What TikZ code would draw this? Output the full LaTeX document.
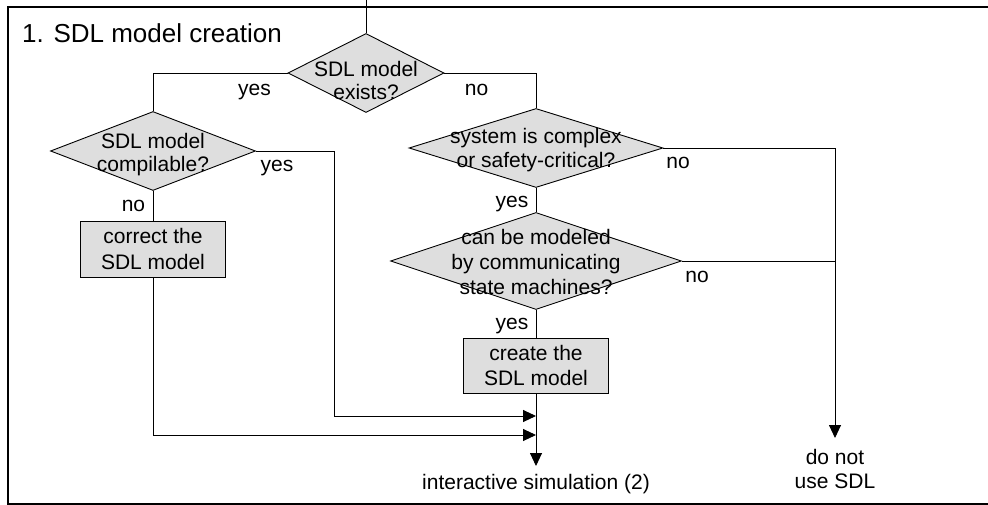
\documentclass[tikz,border=0pt]{standalone}
\usepackage{fontspec}
\setmainfont{Liberation Sans}
\usetikzlibrary{shapes.geometric,arrows.meta}
\definecolor{boxfill}{HTML}{DEDEDE}
\begin{document}
\begin{tikzpicture}[x=1pt,y=-1pt,
  every node/.style={font=\fontsize{21}{24}\selectfont},
  dia/.style={diamond,draw,line width=0.9pt,fill=boxfill,inner sep=0pt},
  txt/.style={align=center,inner sep=0pt},
  procbox/.style={rectangle,draw,line width=0.9pt,fill=boxfill,align=center,inner sep=0pt,
    font=\fontsize{21}{25.5}\selectfont},
  lbl/.style={anchor=base,inner sep=0pt},
  conn/.style={line width=0.9pt},
  arr/.style={conn,-{Triangle[length=13pt,width=12pt]}}]
\useasboundingbox (0,0) rectangle (988,505);
% frame (open on the right)
\draw[line width=1.2pt] (990,7) -- (8,7) -- (8,504) -- (990,504);
\node[anchor=base west,inner sep=0pt,font=\fontsize{26}{30}\selectfont] (title) at (22,43) {1. SDL model creation};
% shapes
\node[dia,minimum width=156pt,minimum height=79pt] (d1) at (366,73) {};
\node[txt,font=\fontsize{21}{23.5}\selectfont] (d1t) at (366,80.5) {SDL model\\exists?};
\node[dia,minimum width=205pt,minimum height=79pt] (d2) at (153,151) {};
\node[txt,font=\fontsize{21}{23.5}\selectfont] (d2t) at (153,154.5) {SDL model\\compilable?};
\node[dia,minimum width=254pt,minimum height=79pt] (d3) at (536,148) {};
\node[txt] (d3t) at (536,150.5) {system is complex\\or safety-critical?};
\node[dia,minimum width=291pt,minimum height=97pt] (d4) at (536,261) {};
\node[txt,font=\fontsize{21}{25}\selectfont] (d4t) at (536,262) {can be modeled\\by communicating\\state machines?};
\node[procbox,minimum width=145pt,minimum height=56pt] (b1) at (153,249) {correct the\\SDL model};
\node[procbox,minimum width=145pt,minimum height=55pt] (b2) at (536,365.5) {create the\\SDL model};
\node[anchor=north,inner sep=0pt,text height=23pt,text depth=5pt] (sim) at (536,466) {interactive simulation (2)};
\node[anchor=north,align=center,inner xsep=0pt,inner ysep=0pt,yshift=-11pt,font=\fontsize{21}{24.5}\selectfont] (dn) at (835,438) {do not\\use SDL};
\coordinate (dntip) at (835,438);
% coordinates
\coordinate (top) at (366,-2);
\coordinate (c1) at (334,416);
\coordinate (j1) at (536,416);
\coordinate (c2) at (153,435);
\coordinate (j2) at (536,435);
% connectors
\draw[conn] (top) -- (d1.north);
\draw[conn] (d1.west) -| (d2.north);
\draw[conn] (d1.east) -| (d3.north);
\draw[conn] (d2.south) -- (b1.north);
\draw[arr] (d2.east) -| (c1) -- (j1);
\draw[arr] (b1.south) -- (c2) -- (j2);
\draw[conn] (d3.south) -- (d4.north);
\draw[conn] (d4.south) -- (b2.north);
\draw[arr] (b2.south) -- (sim.north);
\draw[arr] (d3.east) -| (dntip);
\draw[conn] (d4.east) -- (d4.east -| dntip);
% labels
\node[lbl] (l1) at (254.5,96) {yes};
\node[lbl] (l2) at (476.5,96) {no};
\node[lbl] (l3) at (277,172) {yes};
\node[lbl] (l4) at (133.5,212) {no};
\node[lbl] (l5) at (678,169) {no};
\node[lbl] (l6) at (512,208) {yes};
\node[lbl] (l7) at (697,283) {no};
\node[lbl] (l8) at (512,329) {yes};
\end{tikzpicture}
\end{document}
